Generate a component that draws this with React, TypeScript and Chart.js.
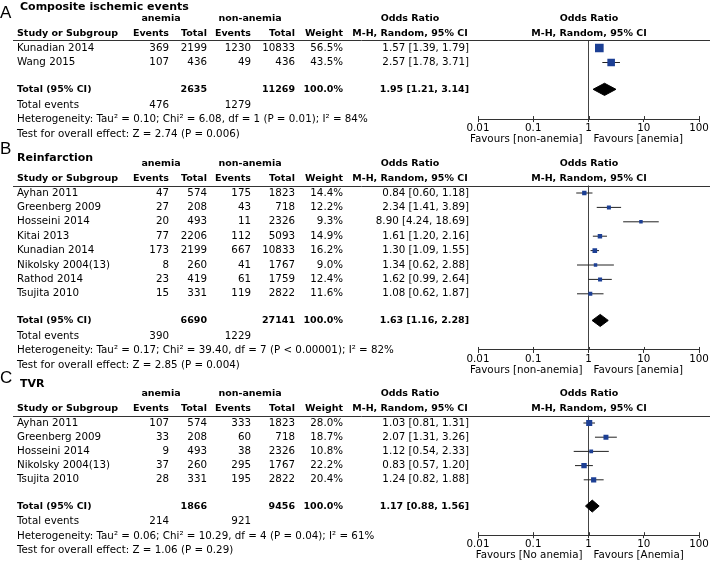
import React, { useEffect, useRef } from 'react';
import { Chart, registerables } from 'chart.js';
Chart.register(...registerables);

// ---------- Axis ----------
const tickValues = [0.01, 0.1, 1, 10, 100];
const tickLabels = ['0.01', '0.1', '1', '10', '100'];

// ---------- Panel A: Composite ischemic events ----------
const studiesA = ['Kunadian 2014', 'Wang 2015'];
const anemiaEventsA = [369, 107];
const anemiaTotalA = [2199, 436];
const nonEventsA = [1230, 49];
const nonTotalA = [10833, 436];
const weightA = [56.5, 43.5];
const orA = [1.57, 2.57];
const loA = [1.39, 1.78];
const hiA = [1.79, 3.71];
const totalsA = [2635, 11269];
const totalEventsA = [476, 1279];
const pooledA = [1.95, 1.21, 3.14];
const hetA = 'Heterogeneity: Tau\u00B2 = 0.10; Chi\u00B2 = 6.08, df = 1 (P = 0.01); I\u00B2 = 84%';
const testA = 'Test for overall effect: Z = 2.74 (P = 0.006)';
const favoursA = ['Favours [non-anemia]', 'Favours [anemia]'];

// ---------- Panel B: Reinfarction ----------
const studiesB = ['Ayhan 2011', 'Greenberg 2009', 'Hosseini 2014', 'Kitai 2013', 'Kunadian 2014', 'Nikolsky 2004(13)', 'Rathod 2014', 'Tsujita 2010'];
const anemiaEventsB = [47, 27, 20, 77, 173, 8, 23, 15];
const anemiaTotalB = [574, 208, 493, 2206, 2199, 260, 419, 331];
const nonEventsB = [175, 43, 11, 112, 667, 41, 61, 119];
const nonTotalB = [1823, 718, 2326, 5093, 10833, 1767, 1759, 2822];
const weightB = [14.4, 12.2, 9.3, 14.9, 16.2, 9.0, 12.4, 11.6];
const orB = [0.84, 2.34, 8.90, 1.61, 1.30, 1.34, 1.62, 1.08];
const loB = [0.60, 1.41, 4.24, 1.20, 1.09, 0.62, 0.99, 0.62];
const hiB = [1.18, 3.89, 18.69, 2.16, 1.55, 2.88, 2.64, 1.87];
const totalsB = [6690, 27141];
const totalEventsB = [390, 1229];
const pooledB = [1.63, 1.16, 2.28];
const hetB = 'Heterogeneity: Tau\u00B2 = 0.17; Chi\u00B2 = 39.40, df = 7 (P < 0.00001); I\u00B2 = 82%';
const testB = 'Test for overall effect: Z = 2.85 (P = 0.004)';
const favoursB = ['Favours [non-anemia]', 'Favours [anemia]'];

// ---------- Panel C: TVR ----------
const studiesC = ['Ayhan 2011', 'Greenberg 2009', 'Hosseini 2014', 'Nikolsky 2004(13)', 'Tsujita 2010'];
const anemiaEventsC = [107, 33, 9, 37, 28];
const anemiaTotalC = [574, 208, 493, 260, 331];
const nonEventsC = [333, 60, 38, 295, 195];
const nonTotalC = [1823, 718, 2326, 1767, 2822];
const weightC = [28.0, 18.7, 10.8, 22.2, 20.4];
const orC = [1.03, 2.07, 1.12, 0.83, 1.24];
const loC = [0.81, 1.31, 0.54, 0.57, 0.82];
const hiC = [1.31, 3.26, 2.33, 1.20, 1.88];
const totalsC = [1866, 9456];
const totalEventsC = [214, 921];
const pooledC = [1.17, 0.88, 1.56];
const hetC = 'Heterogeneity: Tau\u00B2 = 0.06; Chi\u00B2 = 10.29, df = 4 (P = 0.04); I\u00B2 = 61%';
const testC = 'Test for overall effect: Z = 1.06 (P = 0.29)';
const favoursC = ['Favours [No anemia]', 'Favours [Anemia]'];

// ---------- Layout / style ----------
const W = 710;
const H = 564;
const BLUE = '#1c3f94';
const FONT = '"DejaVu Sans", sans-serif';
const REG = 10.3;
const BOLD = 9.5;
const COL = {
  study: 17, aEv: 169, aTot: 207, nEv: 251, nTot: 295, weight: 343,
  orText: 469, orHead: 410, forestHead: 589, anemiaHead: 161, nonHead: 250,
  lineStart: 13,
};

type Panel = {
  letter: string; title: string; studies: string[];
  aEv: number[]; aTot: number[]; nEv: number[]; nTot: number[];
  weight: number[]; or: number[]; lo: number[]; hi: number[];
  totals: number[]; totalEvents: number[]; pooled: number[];
  het: string; test: string; favours: string[];
  firstRowY: number; rowH: number; letterY: number; titleY: number; titleX: number;
};

const panels: Panel[] = [
  { letter: 'A', title: 'Composite ischemic events', studies: studiesA, aEv: anemiaEventsA, aTot: anemiaTotalA, nEv: nonEventsA, nTot: nonTotalA, weight: weightA, or: orA, lo: loA, hi: hiA, totals: totalsA, totalEvents: totalEventsA, pooled: pooledA, het: hetA, test: testA, favours: favoursA, firstRowY: 48, rowH: 14.5, letterY: 13, titleY: 7, titleX: 20 },
  { letter: 'B', title: 'Reinfarction', studies: studiesB, aEv: anemiaEventsB, aTot: anemiaTotalB, nEv: nonEventsB, nTot: nonTotalB, weight: weightB, or: orB, lo: loB, hi: hiB, totals: totalsB, totalEvents: totalEventsB, pooled: pooledB, het: hetB, test: testB, favours: favoursB, firstRowY: 193, rowH: 14.4, letterY: 149, titleY: 158, titleX: 17 },
  { letter: 'C', title: 'TVR', studies: studiesC, aEv: anemiaEventsC, aTot: anemiaTotalC, nEv: nonEventsC, nTot: nonTotalC, weight: weightC, or: orC, lo: loC, hi: hiC, totals: totalsC, totalEvents: totalEventsC, pooled: pooledC, het: hetC, test: testC, favours: favoursC, firstRowY: 423, rowH: 14.2, letterY: 378, titleY: 384, titleX: 20 },
];

const fmtOR = (o: number, l: number, h: number) => `${o.toFixed(2)} [${l.toFixed(2)}, ${h.toFixed(2)}]`;

function buildConfig(p: Panel): any {
  const n = p.studies.length;
  const totalRow = n - 1 + 1.85;
  const yMin = -0.52;
  const yMax = totalRow + 2.05;
  const topPx = p.firstRowY + yMin * p.rowH;
  const axisPx = p.firstRowY + yMax * p.rowH;
  const X_H = 30;

  const datasets: any[] = [];
  datasets.push({
    type: 'line', showLine: false,
    data: p.or.map((v, i) => ({ x: v, y: i })),
    pointStyle: 'rect',
    pointRadius: p.weight.map(w => (1.15 * Math.sqrt(w)) / Math.SQRT2),
    pointBackgroundColor: BLUE, pointBorderWidth: 0, backgroundColor: BLUE, borderColor: BLUE,
  });
  const [est, dlo, dhi] = p.pooled;
  datasets.push({
    type: 'line', data: [{ x: dlo, y: totalRow }, { x: est, y: totalRow - 0.42 }, { x: dhi, y: totalRow }],
    borderColor: '#000', borderWidth: 1, pointRadius: 0, fill: false, tension: 0,
  });
  datasets.push({
    type: 'line', data: [{ x: dlo, y: totalRow }, { x: est, y: totalRow + 0.42 }, { x: dhi, y: totalRow }],
    borderColor: '#000', borderWidth: 1, pointRadius: 0, fill: '-1', backgroundColor: '#000', tension: 0,
  });
  p.lo.forEach((lo, i) => {
    datasets.push({
      type: 'line', data: [{ x: lo, y: i }, { x: p.hi[i], y: i }],
      borderColor: '#222', borderWidth: 1, pointRadius: 0, fill: false,
    });
  });

  const textPlugin = {
    id: 'tableText',
    afterDraw(chart: any) {
      const ctx = chart.ctx;
      const ys = chart.scales.y;
      const xs = chart.scales.x;
      const Y = (r: number) => ys.getPixelForValue(r);
      ctx.save();
      // inner half of the tick marks (above the axis line)
      ctx.strokeStyle = '#333';
      ctx.lineWidth = 1;
      ctx.beginPath();
      tickValues.forEach(v => {
        const px = Math.round(xs.getPixelForValue(v)) + 0.5;
        ctx.moveTo(px, xs.top - 3);
        ctx.lineTo(px, xs.top);
      });
      ctx.stroke();

      ctx.fillStyle = '#000';
      ctx.textBaseline = 'middle';
      const t = (s: string, x: number, y: number, align: string, bold = false, size?: number) => {
        const sz = size ?? (bold ? BOLD : REG);
        ctx.font = `${bold ? 'bold ' : ''}${sz}px ${FONT}`;
        ctx.textAlign = align;
        ctx.fillText(s, x, y);
      };
      // letter and title
      ctx.font = `17px "Liberation Sans", sans-serif`;
      ctx.textAlign = 'left';
      ctx.fillText(p.letter, 0, p.letterY);
      t(p.title, p.titleX, p.titleY, 'left', true, 11);
      // group headers
      const rHead2 = -2.05;
      const rHead1 = -1.03;
      t('anemia', COL.anemiaHead, Y(rHead2), 'center', true);
      t('non-anemia', COL.nonHead, Y(rHead2), 'center', true);
      t('Odds Ratio', COL.orHead, Y(rHead2), 'center', true);
      t('Odds Ratio', COL.forestHead, Y(rHead2), 'center', true);
      t('Study or Subgroup', COL.study, Y(rHead1), 'left', true);
      t('Events', COL.aEv, Y(rHead1), 'right', true);
      t('Total', COL.aTot, Y(rHead1), 'right', true);
      t('Events', COL.nEv, Y(rHead1), 'right', true);
      t('Total', COL.nTot, Y(rHead1), 'right', true);
      t('Weight', COL.weight, Y(rHead1), 'right', true);
      t('M-H, Random, 95% CI', COL.orHead, Y(rHead1), 'center', true);
      t('M-H, Random, 95% CI', COL.forestHead, Y(rHead1), 'center', true);
      // header rule
      ctx.strokeStyle = '#333';
      ctx.lineWidth = 1;
      ctx.beginPath();
      const ly = Math.round(topPx) + 0.5;
      ctx.moveTo(COL.lineStart, ly);
      ctx.lineTo(W, ly);
      ctx.stroke();
      // study rows
      p.studies.forEach((s, i) => {
        const y = Y(i);
        t(s, COL.study, y, 'left');
        t(String(p.aEv[i]), COL.aEv, y, 'right');
        t(String(p.aTot[i]), COL.aTot, y, 'right');
        t(String(p.nEv[i]), COL.nEv, y, 'right');
        t(String(p.nTot[i]), COL.nTot, y, 'right');
        t(p.weight[i].toFixed(1) + '%', COL.weight, y, 'right');
        t(fmtOR(p.or[i], p.lo[i], p.hi[i]), COL.orText, y, 'right');
      });
      // total row
      const yt = Y(totalRow);
      t('Total (95% CI)', COL.study, yt, 'left', true);
      t(String(p.totals[0]), COL.aTot, yt, 'right', true);
      t(String(p.totals[1]), COL.nTot, yt, 'right', true);
      t('100.0%', COL.weight, yt, 'right', true);
      t(fmtOR(p.pooled[0], p.pooled[1], p.pooled[2]), COL.orText, yt, 'right', true);
      const ye = Y(totalRow + 1.1);
      t('Total events', COL.study, ye, 'left');
      t(String(p.totalEvents[0]), COL.aEv, ye, 'right');
      t(String(p.totalEvents[1]), COL.nEv, ye, 'right');
      t(p.het, COL.study, Y(totalRow + 2.1), 'left');
      t(p.test, COL.study, Y(totalRow + 3.1), 'left');
      // favours
      const x1 = xs.getPixelForValue(1);
      t(p.favours[0], x1 - 6, axisPx + 20, 'right');
      t(p.favours[1], x1 + 5, axisPx + 20, 'left');
      ctx.restore();
    },
  };

  return {
    type: 'line',
    data: { datasets },
    plugins: [textPlugin],
    options: {
      responsive: false,
      animation: false,
      events: [],
      layout: { padding: { left: 478, right: W - 699, top: topPx, bottom: H - axisPx - X_H } },
      plugins: { legend: { display: false }, tooltip: { enabled: false } },
      scales: {
        x: {
          type: 'logarithmic', min: 0.01, max: 100, position: 'bottom',
          afterBuildTicks: (s: any) => { s.ticks = tickValues.map(v => ({ value: v })); },
          afterFit: (s: any) => { s.height = X_H; },
          ticks: {
            callback: (_v: any, i: number) => tickLabels[i],
            font: { family: FONT, size: REG }, color: '#000', padding: 0,
            maxRotation: 0, autoSkip: false,
          },
          grid: {
            color: (c: any) => (c.tick && c.tick.value === 1 ? '#444' : 'rgba(0,0,0,0)'),
            tickColor: '#333', tickLength: 3, lineWidth: 1,
          },
          border: { display: true, color: '#333', width: 1 },
        },
        y: { type: 'linear', reverse: true, min: yMin, max: yMax, display: false },
      },
    },
  };
}

export default function App() {
  const r0 = useRef<HTMLCanvasElement>(null);
  const r1 = useRef<HTMLCanvasElement>(null);
  const r2 = useRef<HTMLCanvasElement>(null);
  useEffect(() => {
    const refs = [r0, r1, r2];
    const charts = panels.map((p, i) => new Chart(refs[i].current as HTMLCanvasElement, buildConfig(p)));
    return () => charts.forEach(c => c.destroy());
  }, []);
  const cs: any = { position: 'absolute', left: 0, top: 0 };
  return (
    <div style={{ position: 'fixed', left: 0, top: 0, width: W, height: H, background: '#fff' }}>
      <canvas ref={r0} width={W} height={H} style={cs} />
      <canvas ref={r1} width={W} height={H} style={cs} />
      <canvas ref={r2} width={W} height={H} style={cs} />
    </div>
  );
}
